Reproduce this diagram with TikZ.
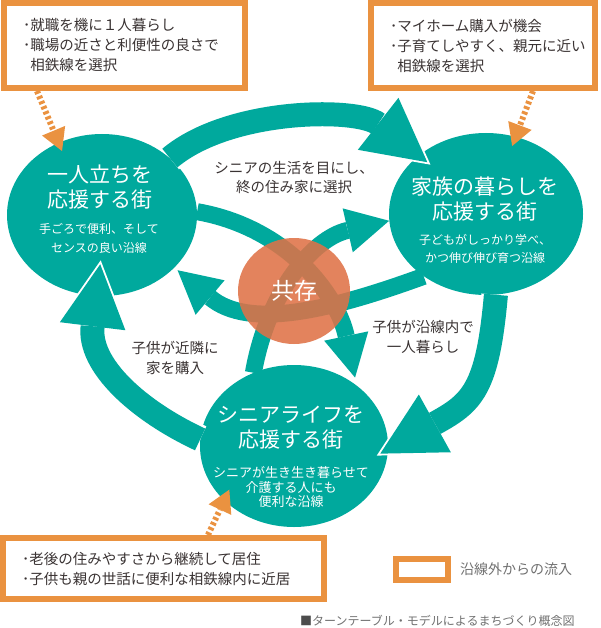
\documentclass[tikz,border=0pt]{standalone}
\usepackage{fontspec}
\setmainfont{Noto Sans CJK JP}
\usepackage{tikz}
\usepackage{xcolor}
\usetikzlibrary{shapes.geometric, arrows.meta, positioning, calc}

\definecolor{clrTeal}{HTML}{00A99D}
\definecolor{clrInflow}{HTML}{EA9240}
\definecolor{clrCore}{HTML}{DF7247}
\definecolor{clrInk}{HTML}{3A3333}
\definecolor{clrCap}{HTML}{707070}

\begin{document}
\begin{tikzpicture}[x=1pt, y=1pt,
    town/.style={ellipse, fill=clrTeal, minimum width=190pt, minimum height=162pt, inner sep=0pt},
    ttl/.style={text=white, align=center, font=\fontsize{21}{25}\selectfont},
    sub/.style={text=white, align=center, font=\fontsize{12}{18.5}\selectfont},
    note/.style={text=clrInk, align=center, font=\fontsize{14.5}{19.5}\selectfont},
    memo/.style={draw=clrInflow, line width=6pt, fill=white, inner xsep=19pt, inner ysep=0pt, align=left, text=clrInk, font=\fontsize{14.5}{20}\selectfont},
    loopflow/.style={draw=clrTeal, line width=24pt, -{Triangle[length=0pt 2.6, width=0pt 2.75, line width=0pt]}, shorten >=#1, preaction={draw=white, line width=29pt, shorten >=#1-4pt}},
    crossflow/.style={draw=clrTeal, line width=17pt, -{Triangle[length=0pt 2.5, width=0pt 2.65, line width=0pt]}, shorten >=#1},
    feedline/.style={draw=clrInflow, line width=6pt, dash pattern=on 3pt off 2.5pt, -{Triangle[length=22pt, width=25pt, line width=0pt]}, shorten >=#1}
]
    \useasboundingbox (0,0) rectangle (600,-628);

    % Towns
    \node[town] (circL) at (102,-215) {};
    \node[town, minimum width=194pt] (circR) at (486,-214) {};
    \node[town, minimum width=188pt] (circB) at (294,-446) {};

    % Turntable flows
    \draw[loopflow=-11pt] (circL.40) to[out=40, in=142, looseness=0.8] (circR.139);
    \draw[loopflow=-9pt] (circR.-83) to[out=-95, in=29, looseness=1.3] (circB.-2);
    \draw[loopflow=-32pt] (circB.176) to[out=155, in=-97] (circL.-94);
    \draw[crossflow=8pt] (circL.2) to[out=-10, in=102] (circB.44);
    \draw[crossflow=0pt] (circB.119) to[out=80, in=193] (circR.184);
    \draw[crossflow=4pt] (circR.-135) to[out=-160, in=-40] (circL.-36);

    % Coexistence
    \node[ellipse, fill=clrCore, fill opacity=0.88, text opacity=1, text=white, minimum width=112pt, minimum height=106pt, font=\fontsize{23}{23}\selectfont] (core) at (294,-291) {共存};

    % Town names
    \node[ttl] (ttlL) at (100,-187.5) {一人立ちを\\応援する街};
    \node[sub] (subL) at (99,-238.5) {手ごろで便利、そして\\センスの良い沿線};
    \node[ttl] (ttlR) at (485,-199.5) {家族の暮らしを\\応援する街};
    \node[sub] (subR) at (485,-249) {子どもがしっかり学べ、\\かつ伸び伸び育つ沿線};
    \node[ttl] (ttlB) at (291,-427.5) {シニアライフを\\応援する街};
    \node[sub, font=\fontsize{13}{14.5}\selectfont] (subB) at (291,-487.5) {シニアが生き生き暮らせて\\介護する人にも\\便利な沿線};

    % Flow notes
    \node[note] (noteTop) at (294,-177.5) {シニアの生活を目にし、\\終の住み家に選択};
    \node[note] (noteLeft) at (175,-358) {子供が近隣に\\家を購入};
    \node[note] (noteRight) at (423,-337) {子供が沿線内で\\一人暮らし};

    % Inflow from outside
    \node[memo, minimum height=85pt, text width=203pt] (boxTL) at (124.5,-45.5) {･就職を機に１人暮らし\\･職場の近さと利便性の良さで\\\phantom{･}相鉄線を選択};
    \node[memo, minimum height=85pt, text width=186pt] (boxTR) at (483,-45.5) {･マイホーム購入が機会\\･子育てしやすく、親元に近い\\\phantom{･}相鉄線を選択};
    \node[memo, minimum height=61pt, text width=283pt] (boxB) at (163.5,-568.5) {･老後の住みやすさから継続して居住\\･子供も親の世話に便利な相鉄線内に近居};

    \draw[feedline=-9pt] ([xshift=-87.5pt]boxTL.south) -- (circL.121);
    \draw[feedline=-10pt] ([xshift=50pt]boxTR.south) -- (circR.69);
    \draw[feedline=-12pt] ([xshift=44.5pt]boxB.north) -- (circB.-142);

    % Legend
    \node[draw=clrInflow, line width=6pt, minimum width=52pt, minimum height=21pt, inner sep=0pt] (legbox) at (422,-569.5) {};
    \node[right=9pt of legbox, inner sep=0pt, text=clrCap, font=\fontsize{14}{14}\selectfont] (legtxt) {沿線外からの流入};
    \node[anchor=west, inner sep=0pt, text=clrCap, font=\fontsize{12}{12}\selectfont] (caption) at (300,-621) {{\color{black!70}■}ターンテーブル・モデルによるまちづくり概念図};
\end{tikzpicture}
\end{document}
